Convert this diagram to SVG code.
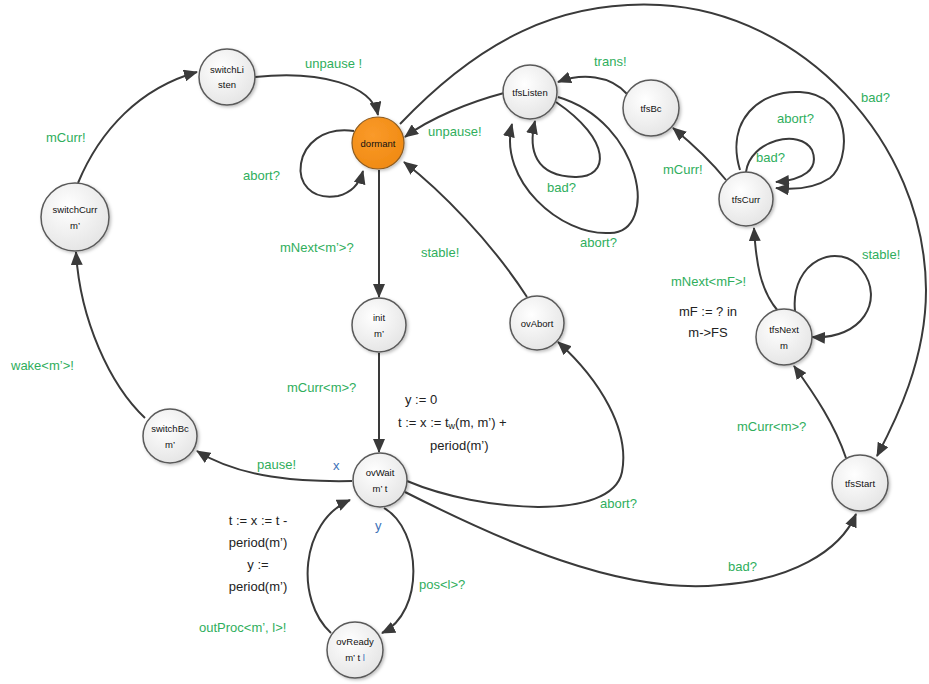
<svg xmlns="http://www.w3.org/2000/svg" width="929" height="684" viewBox="0 0 929 684">
<style>
.e{fill:none;stroke:#3a3a3a;stroke-width:2;marker-end:url(#ah)}
.e0{fill:none;stroke:#3a3a3a;stroke-width:2}
.n{fill:url(#gf);stroke:#5a5a5a;stroke-width:1.5;filter:url(#sh)}
.nt{font-family:"Liberation Sans",Arial,sans-serif;font-size:9.5px;fill:#111;text-anchor:middle}
.g{font-family:"Liberation Sans",Arial,sans-serif;font-size:13px;fill:#2fae5c}
.b{font-family:"Liberation Sans",Arial,sans-serif;font-size:13px;fill:#222}
.bl{fill:#3d72b8}
</style>
<defs>
<radialGradient id="gf" cx="0.4" cy="0.35" r="0.7">
<stop offset="0" stop-color="#ffffff"/>
<stop offset="1" stop-color="#e4e4e4"/>
</radialGradient>
<radialGradient id="go" cx="0.4" cy="0.35" r="0.7">
<stop offset="0" stop-color="#fa9a2a"/>
<stop offset="1" stop-color="#f08a12"/>
</radialGradient>
<filter id="sh" x="-30%" y="-30%" width="170%" height="170%">
<feDropShadow dx="1.5" dy="1.5" stdDeviation="1.5" flood-color="#000" flood-opacity="0.25"/>
</filter>
<marker id="ah" markerUnits="userSpaceOnUse" markerWidth="14" markerHeight="12" refX="13" refY="6" orient="auto">
<path d="M0,0 L14,6 L0,12 z" fill="#3a3a3a"/>
</marker>
</defs>

<g id="connectors">
<path class="e" d="M78,183 C100,130 140,88 197,72"/>
<path class="e" d="M255,77 C320,70 372,85 378,115"/>
<path class="e" d="M354,131 C290,122 282,205 338,196 C354,192 360,182 363,171"/>
<path class="e" d="M379,170 L379,297"/>
<path class="e" d="M379,353 L379,452"/>
<path class="e" d="M352,481 C300,482 240,478 197,451"/>
<path class="e" d="M145,418 C110,385 80,320 76,252"/>
<path class="e" d="M384,508 C422,530 425,612 382,633"/>
<path class="e" d="M331,633 C295,600 300,522 350,500"/>
<path class="e" d="M407,481 C480,512 612,522 622,472 C630,430 600,380 558,342"/>
<path class="e" d="M405,492 C500,540 620,595 720,585 C790,580 840,552 856,514"/>
<path class="e" d="M527,297 C490,240 440,190 404,162"/>
<path class="e" d="M504,93 C470,102 430,118 405,137"/>
<path class="e" d="M556,102 C612,140 610,178 575,177 C535,176 528,150 535,121"/>
<path class="e" d="M558,97 C642,122 660,232 610,233 C560,236 498,180 512,124"/>
<path class="e" d="M627,94 C610,75 582,73 558,82"/>
<path class="e" d="M726,180 C710,160 690,142 673,128"/>
<path class="e" d="M746,172 C750,140 800,128 812,150 C820,170 802,180 776,182"/>
<path class="e" d="M740,170 C725,120 760,90 800,92 C852,94 852,160 830,178 C815,188 795,190 776,188"/>
<path class="e" d="M778,311 C760,290 756,262 754,228"/>
<path class="e" d="M795,311 C790,260 840,240 862,270 C885,300 862,340 812,337"/>
<path class="e" d="M846,458 C835,425 815,395 794,366"/>
<path class="e" d="M400,124 C480,40 560,0 660,5 C800,12 925,140 926,290 C926,360 896,420 877,456"/>
</g>

<g id="switchListen"><circle class="n" cx="227" cy="77" r="28"/><text class="nt" x="227" y="73">switchLi</text><text class="nt" x="227" y="88">sten</text></g>
<g id="dormant"><circle cx="378" cy="143" r="26" fill="url(#go)" stroke="#8a5a20" stroke-width="1.2" filter="url(#sh)"/><text class="nt" x="378" y="147">dormant</text></g>
<g id="switchCurr"><circle class="n" cx="75" cy="217" r="34"/><text class="nt" x="75" y="213">switchCurr</text><text class="nt" x="75" y="229">m’</text></g>
<g id="switchBc"><circle class="n" cx="170" cy="436" r="27"/><text class="nt" x="170" y="432">switchBc</text><text class="nt" x="170" y="448">m’</text></g>
<g id="init"><circle class="n" cx="379" cy="325" r="27"/><text class="nt" x="379" y="321">init</text><text class="nt" x="379" y="337">m’</text></g>
<g id="ovWait"><circle class="n" cx="380" cy="480" r="27"/><text class="nt" x="380" y="476">ovWait</text><text class="nt" x="380" y="492">m’ t</text></g>
<g id="ovReady"><circle class="n" cx="355" cy="650" r="28"/><text class="nt" x="355" y="645">ovReady</text><text class="nt" x="355" y="661">m’ t <tspan class="bl">l</tspan></text></g>
<g id="ovAbort"><circle class="n" cx="537" cy="323" r="27"/><text class="nt" x="537" y="327">ovAbort</text></g>
<g id="tfsListen"><circle class="n" cx="530" cy="92" r="27"/><text class="nt" x="530" y="96">tfsListen</text></g>
<g id="tfsBc"><circle class="n" cx="651" cy="108" r="28"/><text class="nt" x="651" y="112">tfsBc</text></g>
<g id="tfsCurr"><circle class="n" cx="746" cy="199" r="27"/><text class="nt" x="746" y="203">tfsCurr</text></g>
<g id="tfsNext"><circle class="n" cx="784" cy="337" r="28"/><text class="nt" x="784" y="333">tfsNext</text><text class="nt" x="784" y="349">m</text></g>
<g id="tfsStart"><circle class="n" cx="860" cy="483" r="28"/><text class="nt" x="860" y="487">tfsStart</text></g>

<g id="labels">
<text class="g" x="46" y="142">mCurr!</text>
<text class="g" x="305" y="68">unpause !</text>
<text class="g" x="243" y="180">abort?</text>
<text class="g" x="280" y="252">mNext&lt;m’&gt;?</text>
<text class="g" x="287" y="392">mCurr&lt;m&gt;?</text>
<text class="g" x="11" y="370">wake&lt;m’&gt;!</text>
<text class="g" x="257" y="469">pause!</text>
<text class="b bl" x="333" y="470">x</text>
<text class="b bl" x="375" y="530">y</text>
<text class="g" x="419" y="589">pos&lt;l&gt;?</text>
<text class="g" x="199" y="632">outProc&lt;m’, l&gt;!</text>
<text class="b" x="258" y="525" text-anchor="middle">t := x := t -</text>
<text class="b" x="258" y="547" text-anchor="middle">period(m’)</text>
<text class="b" x="258" y="569" text-anchor="middle">y :=</text>
<text class="b" x="258" y="591" text-anchor="middle">period(m’)</text>
<text class="b" x="405" y="404">y := 0</text>
<text class="b" x="398" y="427">t := x := t<tspan font-size="9" dy="2">w</tspan><tspan dy="-2">(m, m’) +</tspan></text>
<text class="b" x="430" y="450">period(m’)</text>
<text class="g" x="600" y="508">abort?</text>
<text class="g" x="728" y="571">bad?</text>
<text class="g" x="421" y="257">stable!</text>
<text class="g" x="428" y="136">unpause!</text>
<text class="g" x="547" y="192">bad?</text>
<text class="g" x="580" y="247">abort?</text>
<text class="g" x="594" y="66">trans!</text>
<text class="g" x="663" y="174">mCurr!</text>
<text class="g" x="756" y="162">bad?</text>
<text class="g" x="777" y="123">abort?</text>
<text class="g" x="861" y="102">bad?</text>
<text class="g" x="671" y="286">mNext&lt;mF&gt;!</text>
<text class="b" x="708" y="316" text-anchor="middle">mF := ? in</text>
<text class="b" x="708" y="337" text-anchor="middle">m-&gt;FS</text>
<text class="g" x="862" y="259">stable!</text>
<text class="g" x="737" y="431">mCurr&lt;m&gt;?</text>
</g>
</svg>
